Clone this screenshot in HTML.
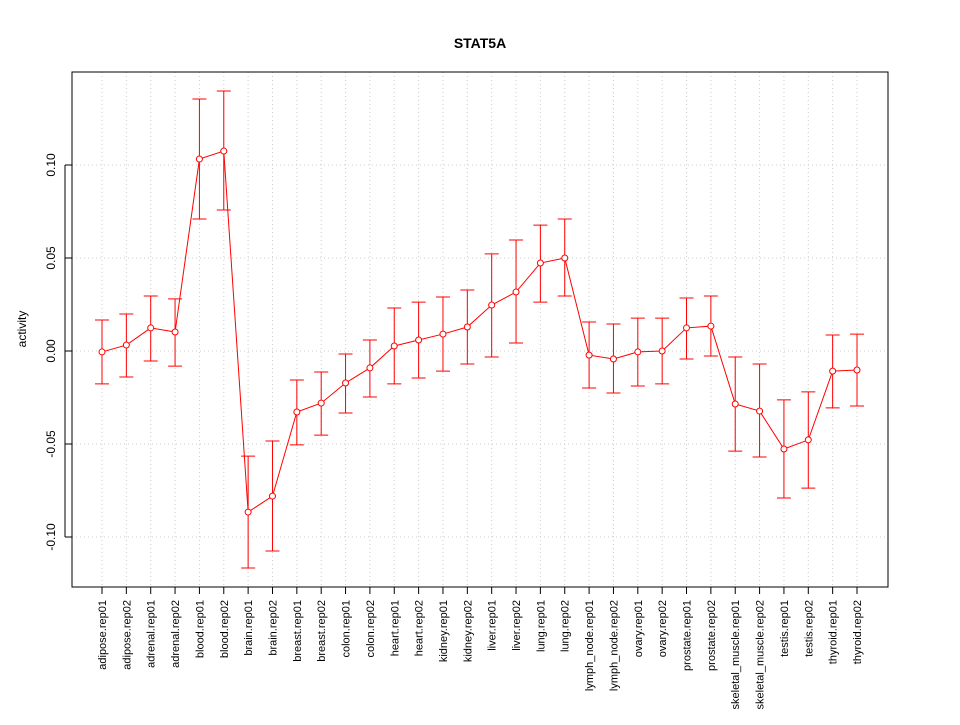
<!DOCTYPE html>
<html><head><meta charset="utf-8"><style>
body{margin:0;background:#fff;}
svg{font-family:"Liberation Sans",Arial,sans-serif;}
</style></head><body>
<svg id="chart" width="960" height="720" xmlns="http://www.w3.org/2000/svg">
<rect width="960" height="720" fill="#fff"/>
<text x="480" y="48" text-anchor="middle" font-size="14" font-weight="bold">STAT5A</text>
<text transform="translate(26,329) rotate(-90)" text-anchor="middle" font-size="12">activity</text>
<g id="grid"></g>
<g id="yaxis"></g>
<g id="xaxis"></g>
<g id="series"></g>
<rect x="72" y="72" width="816" height="515" fill="none" stroke="#000"/>
</svg>
<script>
const categories=["adipose.rep01","adipose.rep02","adrenal.rep01","adrenal.rep02","blood.rep01","blood.rep02","brain.rep01","brain.rep02","breast.rep01","breast.rep02","colon.rep01","colon.rep02","heart.rep01","heart.rep02","kidney.rep01","kidney.rep02","liver.rep01","liver.rep02","lung.rep01","lung.rep02","lymph_node.rep01","lymph_node.rep02","ovary.rep01","ovary.rep02","prostate.rep01","prostate.rep02","skeletal_muscle.rep01","skeletal_muscle.rep02","testis.rep01","testis.rep02","thyroid.rep01","thyroid.rep02"];
const values=[-0.0005,0.0032,0.0124,0.0102,0.1032,0.1075,-0.0866,-0.0780,-0.0328,-0.0280,-0.0172,-0.0091,0.0027,0.0059,0.0091,0.0129,0.0247,0.0317,0.0473,0.0500,-0.0022,-0.0043,-0.0005,0,0.0124,0.0134,-0.0285,-0.0323,-0.0527,-0.0478,-0.0108,-0.0102];
const upper=[0.0167,0.0199,0.0296,0.0280,0.1355,0.1398,-0.0565,-0.0484,-0.0156,-0.0113,-0.0016,0.0059,0.0231,0.0263,0.0290,0.0328,0.0522,0.0597,0.0677,0.0710,0.0156,0.0145,0.0177,0.0177,0.0285,0.0296,-0.0032,-0.0070,-0.0263,-0.0220,0.0086,0.0091];
const lower=[-0.0177,-0.0140,-0.0054,-0.0081,0.0710,0.0758,-0.1167,-0.1075,-0.0505,-0.0452,-0.0333,-0.0247,-0.0177,-0.0145,-0.0108,-0.0070,-0.0032,0.0043,0.0263,0.0296,-0.0199,-0.0226,-0.0188,-0.0177,-0.0043,-0.0027,-0.0538,-0.0570,-0.0790,-0.0737,-0.0306,-0.0296];
const yTicks=[-0.10,-0.05,0.00,0.05,0.10];
const yTickLabels=["-0.10","-0.05","0.00","0.05","0.10"];
const NS="http://www.w3.org/2000/svg";
const xs=i=>102+i*(755/(categories.length-1));
const ys=v=>351-v*1860;
function mk(tag,attrs,parent){const e=document.createElementNS(NS,tag);for(const k in attrs)e.setAttribute(k,attrs[k]);document.getElementById(parent).appendChild(e);return e;}
yTicks.forEach((t,i)=>{
  const g=mk("line",{x1:72,x2:888,y1:ys(t),y2:ys(t),stroke:"#ccc","stroke-dasharray":"1,3"},"grid");
  
  
  const tk=mk("line",{x1:65,x2:72,y1:ys(t),y2:ys(t),stroke:"#000"},"yaxis");
  
  
  const tx=mk("text",{transform:`translate(55,${ys(t)}) rotate(-90)`,"text-anchor":"middle","font-size":12},"yaxis");
  tx.textContent=yTickLabels[i];
  
  
});
mk("line",{x1:65,x2:65,y1:ys(yTicks[0]),y2:ys(yTicks[yTicks.length-1]),stroke:"#000"},"yaxis");
mk("line",{x1:xs(0),x2:xs(categories.length-1),y1:587,y2:587,stroke:"#000"},"xaxis");
categories.forEach((c,i)=>{
  const x=xs(i);
  const g=mk("line",{x1:x,x2:x,y1:72,y2:587,stroke:"#ccc","stroke-dasharray":"1,3"},"grid");
  
  
  const tk=mk("line",{x1:x,x2:x,y1:587,y2:594,stroke:"#000"},"xaxis");
  
  
  const tx=mk("text",{transform:`translate(${x+4},600) rotate(-90)`,"text-anchor":"end","font-size":11},"xaxis");
  tx.textContent=c;
  
  
});
const pts=values.map((v,i)=>xs(i)+","+ys(v)).join(" ");
const pl=mk("polyline",{points:pts,fill:"none",stroke:"#f00","stroke-width":1},"series");


values.forEach((v,i)=>{
  const x=xs(i);
  const eb=mk("path",{d:`M${x},${ys(upper[i])}V${ys(lower[i])}M${x-7},${ys(upper[i])}H${x+7}M${x-7},${ys(lower[i])}H${x+7}`,stroke:"#f00",fill:"none"},"series");
  
  
  const p=mk("circle",{cx:x,cy:ys(v),r:3,fill:"#fff",stroke:"#f00"},"series");
  
  
});
</script>
</body></html>
